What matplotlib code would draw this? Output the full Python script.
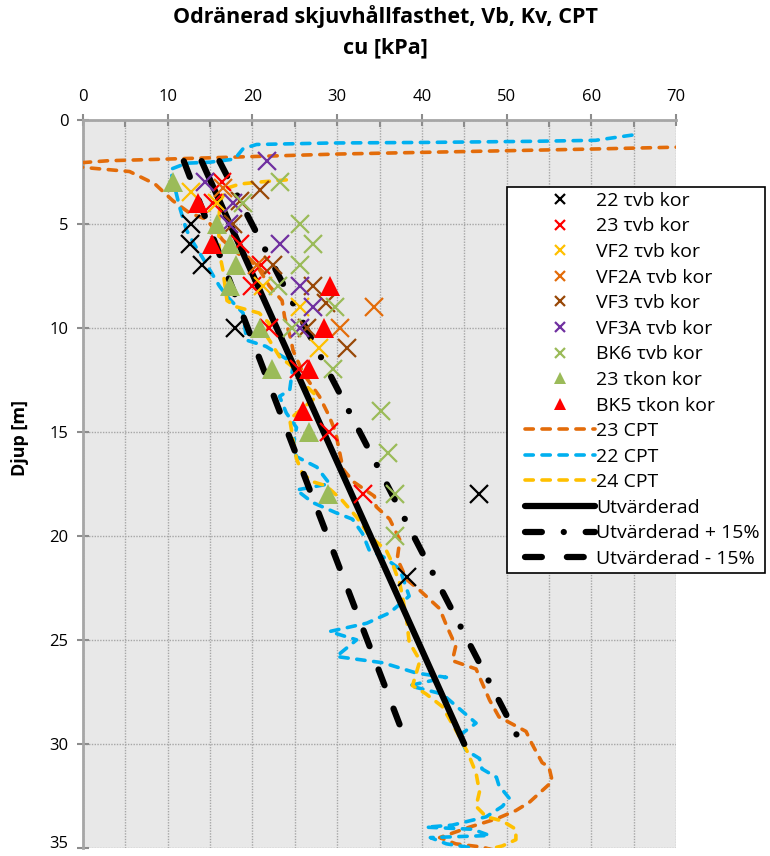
import matplotlib
matplotlib.use("Agg")
import matplotlib.pyplot as plt
from matplotlib.ticker import MultipleLocator
from matplotlib.legend_handler import HandlerLine2D
from matplotlib.lines import Line2D

plt.rcParams['font.family'] = ['Open Sans', 'DejaVu Sans']

# ---------------- data (cu [kPa], depth [m]) ----------------
b22_x = [12.8, 12.6, 14.1, 17.9, 46.8, 38.2]
b22_y = [5, 6, 7, 10, 18, 22]

r23_x = [16.4, 15.3, 18.5, 21.0, 20.0, 22.0, 25.5, 29.0, 33.0]
r23_y = [3, 4, 6, 7, 8, 10, 12, 15, 18]

vf2_x = [12.8, 15.8, 21.2, 25.6, 27.9]
vf2_y = [3.5, 4, 8, 9, 11]

vf2a_x = [16.5, 20.5, 30.3, 34.3]
vf2a_y = [3.3, 7, 10, 9]

vf3_x = [20.9, 18.5, 17.7, 22.4, 27.2, 28.7, 26.5, 31.2]
vf3_y = [3.4, 3.9, 5, 7, 8, 8.8, 10, 11]

vf3a_x = [21.7, 14.4, 17.7, 17.2, 23.2, 25.6, 27.1, 25.6]
vf3a_y = [2, 3, 4, 5, 6, 8, 9, 10]

bk6_x = [23.2, 18.9, 25.6, 27.1, 25.6, 23.0, 29.7, 24.7, 29.5, 35.2, 36.0, 36.8, 36.8]
bk6_y = [3, 4, 5, 6, 7, 8, 9, 10, 12, 14, 16, 18, 20]

kon23_x = [10.6, 15.8, 17.3, 18.1, 17.3, 20.9, 22.3, 26.7, 28.9]
kon23_y = [3, 5, 6, 7, 8, 10, 12, 15, 18]

kon5_x = [13.6, 15.2, 29.1, 28.5, 26.7, 26.0]
kon5_y = [4, 6, 8, 10, 12, 14]

cpt23_x = [75, 70, 60, 50, 40, 30, 20, 10, 3, -1, 0, 5.5, 8.5, 10.6, 12.6, 14.6,
           16.5, 18.5, 20.5, 22.0, 23.5, 23.8, 24.5, 24.8, 26.0, 27.9, 29.0, 29.8,
           30.7, 31.9, 34.4, 34.6, 36.2, 37.4, 37.1, 38.2, 39.7, 42.1, 42.9, 44.0,
           43.6, 46.4, 48.0, 49.1, 52.3, 53.0, 54.2, 55.0, 55.4, 52.7, 51.1, 48.8,
           45.6, 42.1, 44.0, 47.0, 48.5]
cpt23_y = [1.28, 1.33, 1.42, 1.5, 1.58, 1.66, 1.78, 1.9, 1.98, 2.1, 2.3, 2.5, 3.1, 3.9,
           4.5, 4.8, 5.8, 6.5, 7.0, 8.0, 8.7, 9.5, 10.5, 11.1, 12.2, 13.3, 14.2, 15.0,
           16.8, 17.4, 18.1, 18.6, 19.2, 20.2, 21.1, 22.1, 22.6, 23.5, 24.3, 25.3,
           26.0, 26.4, 27.9, 28.7, 29.4, 30.0, 30.9, 31.1, 31.8, 32.8, 33.2, 33.6,
           34.0, 34.5, 34.8, 34.95, 35.1]

cpt22_x = [64.8, 60.5, 52.7, 40.9, 29.1, 20.5, 18.9, 17.9, 15.0, 12.2, 10.3, 10.8,
           11.4, 12.2, 13.0, 14.2, 16.1, 17.0, 18.9, 19.3, 21.6, 24.0, 24.8, 24.4,
           23.2, 24.0, 25.2, 24.8, 25.2, 27.6, 29.1, 25.2, 27.1, 29.9, 31.8, 33.0,
           33.8, 35.4, 37.4, 38.5, 36.2, 33.5, 29.1, 32.3, 29.9, 35.4, 39.4, 42.9,
           38.5, 42.4, 44.4, 46.4, 44.4, 45.2, 46.8, 47.1, 48.8, 49.1, 50.3, 49.5,
           47.6, 43.6, 40.5, 46.0, 48.0, 41.0, 42.9, 46.0]
cpt22_y = [0.75, 1.0, 1.05, 1.1, 1.13, 1.2, 1.4, 1.9, 2.05, 2.1, 2.4, 3.2, 4.2, 5.3,
           5.9, 6.7, 8.0, 8.5, 9.3, 10.6, 10.9, 11.5, 11.8, 13.0, 13.3, 14.1, 14.8,
           15.7, 16.2, 16.7, 17.5, 17.8, 18.4, 18.9, 19.2, 19.9, 20.7, 21.0, 21.6,
           22.9, 23.7, 24.2, 24.6, 25.0, 25.8, 26.1, 26.6, 26.8, 27.2, 27.6, 28.3,
           29.0, 29.6, 30.3, 30.7, 31.2, 31.6, 32.0, 32.6, 33.0, 33.5, 33.9, 34.0,
           34.1, 34.4, 34.5, 34.8, 35.0]

cpt24_x = [24.0, 21.0, 18.5, 17.0, 16.2, 16.0, 16.1, 16.5, 17.0, 18.1, 20.8, 22.0,
           21.5, 22.0, 23.2, 24.8, 25.6, 27.6, 24.4, 24.8, 25.2, 25.9, 27.1, 28.7,
           30.6, 32.3, 33.8, 35.8, 36.5, 37.4, 37.7, 38.2, 38.5, 39.5, 39.7, 38.9,
           40.5, 42.4, 44.1, 45.4, 46.4, 46.8, 46.4, 47.6, 49.5, 51.1, 51.1, 49.5,
           47.5]
cpt24_y = [2.9, 3.0, 3.1, 3.3, 3.9, 5.0, 6.4, 7.2, 8.7, 9.0, 9.3, 9.8, 10.3, 10.6,
           11.4, 11.9, 12.5, 13.3, 14.4, 15.4, 16.3, 17.0, 17.4, 17.6, 18.3, 19.1,
           20.0, 20.7, 21.3, 22.3, 22.9, 24.0, 25.1, 25.8, 26.1, 27.2, 27.6, 28.2,
           29.4, 30.4, 31.4, 32.3, 33.0, 33.5, 33.7, 34.1, 34.6, 34.9, 35.1]

utv_x = [14.0, 45.0]
utv_y = [2.0, 30.0]
utv_plus_x = [16.1, 51.75]
utv_minus_x = [11.9, 38.25]

x_ticks = [0, 10, 20, 30, 40, 50, 60, 70]
y_ticks = [0, 5, 10, 15, 20, 25, 30, 35]

# ---------------- figure ----------------
fig = plt.figure(figsize=(7.7, 8.56), dpi=100)
ax = fig.add_axes([83 / 770, 1 - 848 / 856, (676 - 83) / 770, (848 - 119.5) / 856])
ax.set_facecolor('#E8E8E8')
ax.set_xlim(0, 70)
ax.set_ylim(35, 0)

ax.xaxis.tick_top()
ax.set_xticks(x_ticks)
ax.set_yticks(y_ticks)
ax.xaxis.set_minor_locator(MultipleLocator(5))
ax.grid(True, which='both', axis='x', linestyle=(0, (1, 1)), color='#A6A6A6', lw=1)
ax.grid(True, which='major', axis='y', linestyle=(0, (1, 1)), color='#A6A6A6', lw=1)
ax.tick_params(axis='x', which='major', direction='inout', length=9, width=1.5,
               color='#8C8C8C', labelsize=12, pad=6)
ax.tick_params(axis='x', which='minor', direction='in', length=5, width=1.5,
               color='#8C8C8C')
ax.tick_params(axis='y', which='major', direction='inout', length=9, width=1.5,
               color='#8C8C8C', labelsize=12, pad=6)
ax.yaxis.get_major_ticks()[-1].label1.set_verticalalignment('baseline')
for s in ['right', 'bottom']:
    ax.spines[s].set_visible(False)
for s in ['top', 'left']:
    ax.spines[s].set_color('#A6A6A6')
    ax.spines[s].set_linewidth(2)

cap = dict(dash_capstyle='round', solid_capstyle='butt')
ax.plot(cpt23_x, cpt23_y, color='#E36C0A', lw=2.6, linestyle=(0, (2.3, 2.4)), label='23 CPT', zorder=3, **cap)
ax.plot(cpt22_x, cpt22_y, color='#00B0F0', lw=2.6, linestyle=(0, (2.3, 2.4)), label='22 CPT', zorder=3, **cap)
ax.plot(cpt24_x, cpt24_y, color='#FFC000', lw=2.6, linestyle=(0, (2.3, 2.4)), label='24 CPT', zorder=3, **cap)
ax.plot(utv_x, utv_y, color='black', lw=4.5, label='Utvärderad', zorder=4, solid_capstyle='round')
ax.plot(utv_plus_x, utv_y, color='black', lw=4.5, linestyle=(0, (2.7, 3.5, 0.01, 3.5)),
        label='Utvärderad + 15%', zorder=4, **cap)
ax.plot(utv_minus_x, utv_y, color='black', lw=4.5, linestyle=(0, (2.7, 4.0)),
        label='Utvärderad - 15%', zorder=4, **cap)

mk = dict(linestyle='none', marker='x', markersize=13, markeredgewidth=1.6, zorder=5)
ax.plot(b22_x, b22_y, color='black', label='22 τvb kor', **mk)
ax.plot(r23_x, r23_y, color='#FF0000', label='23 τvb kor', **mk)
ax.plot(vf2_x, vf2_y, color='#FFC000', label='VF2 τvb kor', **mk)
ax.plot(vf2a_x, vf2a_y, color='#E36C0A', label='VF2A τvb kor', **mk)
ax.plot(vf3_x, vf3_y, color='#984807', label='VF3 τvb kor', **mk)
ax.plot(vf3a_x, vf3a_y, color='#7030A0', label='VF3A τvb kor', **mk)
ax.plot(bk6_x, bk6_y, color='#9BBB59', label='BK6 τvb kor', **mk)
tri = dict(linestyle='none', marker='^', markersize=14, markeredgewidth=0, zorder=6)
ax.plot(kon23_x, kon23_y, color='#9BBB59', label='23 τkon kor', **tri)
ax.plot(kon5_x, kon5_y, color='#FF0000', label='BK5 τkon kor', **tri)

handles, labels = ax.get_legend_handles_labels()
order = labels[6:] + labels[:6]
hmap = dict(zip(labels, handles))
fs = 14
leg = fig.legend([hmap[l] for l in order], order, loc='upper left',
                 bbox_to_anchor=(507 / 770, 1 - 187 / 856), fontsize=fs,
                 frameon=True, fancybox=False, edgecolor='black', framealpha=1,
                 handlelength=4.3, handletextpad=0.05, labelspacing=0.39,
                 borderpad=0.25, borderaxespad=0, markerscale=0.6, numpoints=1,
                 handler_map={Line2D: HandlerLine2D(xpad=0.67)})
leg.get_frame().set_linewidth(1.2)

fig.text(0.5, 1 - 17 / 856, 'Odränerad skjuvhållfasthet, Vb, Kv, CPT', ha='center',
         va='center', fontsize=15.5, fontweight='bold')
fig.text(0.5, 1 - 48 / 856, 'cu [kPa]', ha='center', va='center', fontsize=15.5,
         fontweight='bold')
fig.text(20 / 770, 1 - 438 / 856, 'Djup [m]', rotation=90, ha='center', va='center',
         fontsize=13, fontweight='bold')

fig.savefig('out.png', dpi=100)
